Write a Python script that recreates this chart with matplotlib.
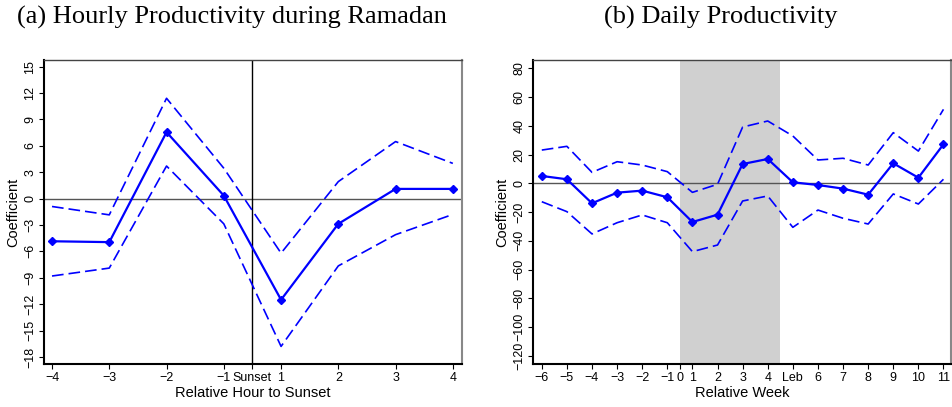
import matplotlib
matplotlib.use("Agg")
import matplotlib.pyplot as plt
import numpy as np

# ---- Panel (a) data ----
hour_labels = ["\u22124", "\u22123", "\u22122", "\u22121", "Sunset", "1", "2", "3", "4"]
hour_pos = [1, 2, 3, 4, 4.5, 5, 6, 7, 8]
hour_data_pos = [1, 2, 3, 4, 5, 6, 7, 8]
hour_coef = [-4.85, -4.95, 7.55, 0.34, -11.5, -2.87, 1.1, 1.1]
hour_upper = [-0.9, -1.85, 11.4, 3.45, -6.2, 1.93, 6.48, 4.0]
hour_lower = [-8.8, -7.9, 3.7, -2.87, -16.8, -7.65, -4.1, -1.8]
hour_yticks = [-18, -15, -12, -9, -6, -3, 0, 3, 6, 9, 12, 15]

# ---- Panel (b) data ----
week_labels = ["\u22126", "\u22125", "\u22124", "\u22123", "\u22122", "\u22121", "0",
               "1", "2", "3", "4", "Leb", "6", "7", "8", "9", "10", "11"]
week_pos = [1, 2, 3, 4, 5, 6, 6.5, 7, 8, 9, 10, 11, 12, 13, 14, 15, 16, 17]
week_data_pos = [1, 2, 3, 4, 5, 6, 7, 8, 9, 10, 11, 12, 13, 14, 15, 16, 17]
week_coef = [5.1, 2.8, -13.9, -6.5, -5.1, -9.7, -26.9, -21.8, 13.4, 16.9,
             0.7, -1.2, -3.7, -7.9, 13.9, 3.9, 27.1]
week_upper = [23.1, 25.7, 7.6, 15.0, 12.7, 8.1, -6.3, -0.7, 39.1, 43.3,
              32.9, 16.2, 17.4, 12.7, 35.2, 22.4, 51.4]
week_lower = [-12.8, -19.7, -35.2, -27.4, -22.0, -27.4, -47.5, -42.9, -12.3, -8.8,
              -30.6, -18.6, -24.3, -28.3, -7.4, -14.4, 2.8]
week_yticks = [-120, -100, -80, -60, -40, -20, 0, 20, 40, 60, 80]
ramadan_span = (6.5, 10.5)

plt.rcParams['font.family'] = ['Liberation Sans', 'DejaVu Sans']

W, H = 953, 407
fig = plt.figure(figsize=(W / 100, H / 100), dpi=100)

def fx(px):
    return px / W

def fy(py):
    return 1 - py / H

ax1 = fig.add_axes([fx(44), fy(364), fx(462 - 44), (364 - 60) / H])
ax2 = fig.add_axes([fx(533), fy(364), fx(951 - 533), (364 - 60) / H])

blue = '#0000ff'

def style(ax):
    ax.spines['left'].set_color('black')
    ax.spines['left'].set_linewidth(1.5)
    ax.spines['bottom'].set_color('black')
    ax.spines['bottom'].set_linewidth(1.5)
    ax.spines['top'].set_color('#444444')
    ax.spines['top'].set_linewidth(1.0)
    ax.spines['right'].set_color('#888888')
    ax.spines['right'].set_linewidth(1.5)
    ax.tick_params(axis='both', direction='out', length=3.5, width=0.8,
                   labelsize=9, colors='black', pad=2)
    for lab in ax.get_yticklabels():
        lab.set_rotation(90)
        lab.set_va('center')

def draw(ax, xs, coef, up, lo):
    ax.plot(xs, coef, color=blue, lw=1.6, marker='D', ms=4.5, zorder=5)
    ax.plot(xs, up, color=blue, lw=1.2, dashes=(7, 3), zorder=4)
    ax.plot(xs, lo, color=blue, lw=1.2, dashes=(7, 3), zorder=4)

# Panel (a)
ax1.axhline(0, color='#555555', lw=1.0, zorder=2)
ax1.axvline(4.5, color='black', lw=1.0, zorder=2)
draw(ax1, hour_data_pos, hour_coef, hour_upper, hour_lower)
ax1.set_xlim(0.86, 8.16)
ax1.set_ylim(-18.8, 15.75)
ax1.set_xticks(hour_pos)
ax1.set_xticklabels(hour_labels)
ax1.set_yticks(hour_yticks)
ax1.set_yticklabels([str(v).replace('-', '\u2212') for v in hour_yticks])
ax1.set_xlabel("Relative Hour to Sunset", fontsize=10.5, labelpad=2)
ax1.set_ylabel("Coefficient", fontsize=10.5, labelpad=3)
style(ax1)

# Panel (b)
ax2.axvspan(*ramadan_span, color='#d0d0d0', lw=0, zorder=1)
ax2.axhline(0, color='#555555', lw=1.0, zorder=2)
draw(ax2, week_data_pos, week_coef, week_upper, week_lower)
ax2.set_xlim(0.65, 17.3)
ax2.set_ylim(-125.6, 85.7)
ax2.set_xticks(week_pos)
ax2.set_xticklabels(week_labels)
ax2.set_yticks(week_yticks)
ax2.set_yticklabels([str(v).replace('-', '\u2212') for v in week_yticks])
ax2.set_xlabel("Relative Week", fontsize=10.5, labelpad=2)
ax2.set_ylabel("Coefficient", fontsize=10.5, labelpad=3)
style(ax2)

fig.text(fx(232), fy(17), "(a) Hourly Productivity during Ramadan",
         family='Liberation Serif', fontsize=19, ha='center', va='center')
fig.text(fx(721), fy(17), "(b) Daily Productivity",
         family='Liberation Serif', fontsize=19, ha='center', va='center')

fig.savefig("out.png", dpi=100)
